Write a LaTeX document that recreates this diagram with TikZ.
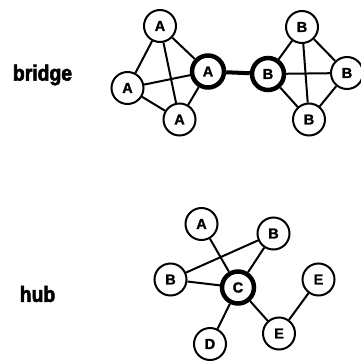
\documentclass[tikz,border=0pt]{standalone}
\usepackage{fontspec}
\setmainfont{Liberation Sans}
\newfontfamily\labfont[FakeStretch=0.88,FakeBold=2.5,BoldFont={Liberation Sans Bold},UprightFont={Liberation Sans Bold}]{Liberation Sans}
\newfontfamily\nodefont[FakeBold=1.5,UprightFont={Liberation Sans Bold}]{Liberation Sans}
\begin{document}
\begin{tikzpicture}[x=1pt,y=-1pt,
  vnode/.style={circle,draw=black,fill=white,line width=2pt,minimum size=32pt,inner sep=0pt,font=\nodefont\fontsize{14.5}{15}\selectfont},
  hubnode/.style={vnode,line width=4.5pt},
  edge/.style={line width=2pt},
  bridgeedge/.style={line width=4pt},
  grouplabel/.style={font=\labfont\fontsize{22}{24}\selectfont,inner sep=0pt}]
\useasboundingbox (0,0) rectangle (361,361);
\clip (0,0) rectangle (361,361);
% labels
\node[grouplabel] (lbridge) at (42.5,75) {bridge};
\node[grouplabel] (lhub) at (37.5,294) {hub};
% bridge group A
\node[vnode] (a1) at (160,26) {A};
\node[vnode] (a2) at (127.5,88) {A};
\node[vnode] (a3) at (179.5,119.5) {A};
\node[hubnode] (a0) at (208,71.5) {A};
% bridge group B
\node[hubnode] (b0) at (268,74) {B};
\node[vnode] (b1) at (302,27) {B};
\node[vnode] (b2) at (347,73) {B};
\node[vnode] (b3) at (309,119.5) {B};
\draw[edge] (a1) -- (a2);
\draw[edge] (a1) -- (a3);
\draw[edge] (a1) -- (a0);
\draw[edge] (a2) -- (a0);
\draw[edge] (a2) -- (a3);
\draw[edge] (a3) -- (a0);
\draw[bridgeedge] (a0) -- (b0);
\draw[edge] (b0) -- (b1);
\draw[edge] (b0) -- (b2);
\draw[edge] (b0) -- (b3);
\draw[edge] (b1) -- (b2);
\draw[edge] (b1) -- (b3);
\draw[edge] (b2) -- (b3);
% hub group
\node[vnode] (ha) at (201.5,224) {A};
\node[vnode] (hb1) at (273.5,233.5) {B};
\node[vnode] (hb2) at (170.5,279.5) {B};
\node[hubnode] (hc) at (238,287.5) {C};
\node[vnode] (he1) at (318.5,279.5) {E};
\node[vnode] (he2) at (279,333.5) {E};
\node[vnode] (hd) at (210,344) {D};
\draw[edge] (ha) -- (hc);
\draw[edge] (hb2) -- (hc);
\draw[edge] (hb1) -- (hc);
\draw[edge] (hb2) -- (hb1);
\draw[edge] (hc) -- (hd);
\draw[edge] (hc) -- (he2);
\draw[edge] (he2) -- (he1);
\end{tikzpicture}
\end{document}
